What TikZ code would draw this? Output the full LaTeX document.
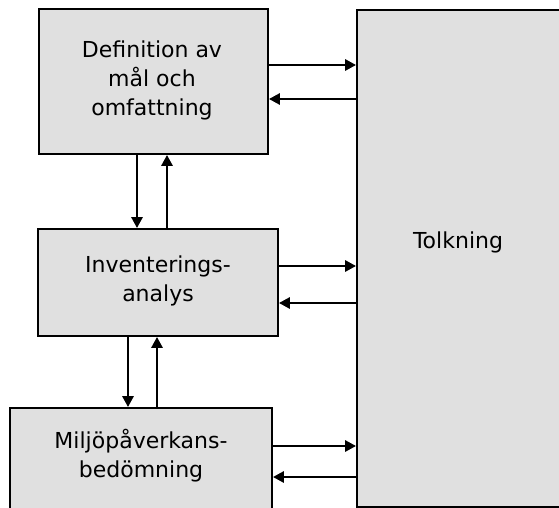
\documentclass[tikz,border=0pt]{standalone}
\usepackage{fontspec}
\setmainfont{DejaVu Sans}
\usetikzlibrary{arrows.meta}
\definecolor{boxgray}{RGB}{224,224,224}
\begin{document}
\begin{tikzpicture}[x=1pt,y=-1pt,
  box/.style={draw=black, line width=1.8pt, fill=boxgray, inner sep=0pt},
  lbl/.style={align=center, font=\fontsize{22}{29}\selectfont},
  arr/.style={line width=2.8pt, -{Triangle[length=11pt,width=11pt]}}]
\useasboundingbox (0,0) rectangle (559,508);
\clip (0,0) rectangle (559,508);
\node[box, minimum width=229pt, minimum height=145pt] (def) at (153.5,81.5) {};
\node[box, minimum width=240pt, minimum height=107pt] (inv) at (158,282.5) {};
\node[box, minimum width=262pt, minimum height=122pt] (mil) at (141,469) {};
\node[box, minimum width=218pt, minimum height=497pt] (tolk) at (466,258.5) {};
\node[lbl] (tdef) at (152,80) {Definition av\\mål och\\omfattning};
\node[lbl] (tinv) at (158,281) {Inventerings-\\analys};
\node[lbl] (tmil) at (141,456) {Miljöpåverkans-\\bedömning};
\node[lbl] (ttolk) at (458,242) {Tolkning};
% horizontal arrows
\draw[arr] (def.east |- 0,65) -- (tolk.west |- 0,65);
\draw[arr] (tolk.west |- 0,99) -- (def.east |- 0,99);
\draw[arr] (inv.east |- 0,266) -- (tolk.west |- 0,266);
\draw[arr] (tolk.west |- 0,303) -- (inv.east |- 0,303);
\draw[arr] (mil.east |- 0,446) -- (tolk.west |- 0,446);
\draw[arr] (tolk.west |- 0,477) -- (mil.east |- 0,477);
% vertical arrows
\draw[arr] (def.south -| 137,0) -- (inv.north -| 137,0);
\draw[arr] (inv.north -| 167,0) -- (def.south -| 167,0);
\draw[arr] (inv.south -| 128,0) -- (mil.north -| 128,0);
\draw[arr] (mil.north -| 157,0) -- (inv.south -| 157,0);
\end{tikzpicture}
\end{document}
